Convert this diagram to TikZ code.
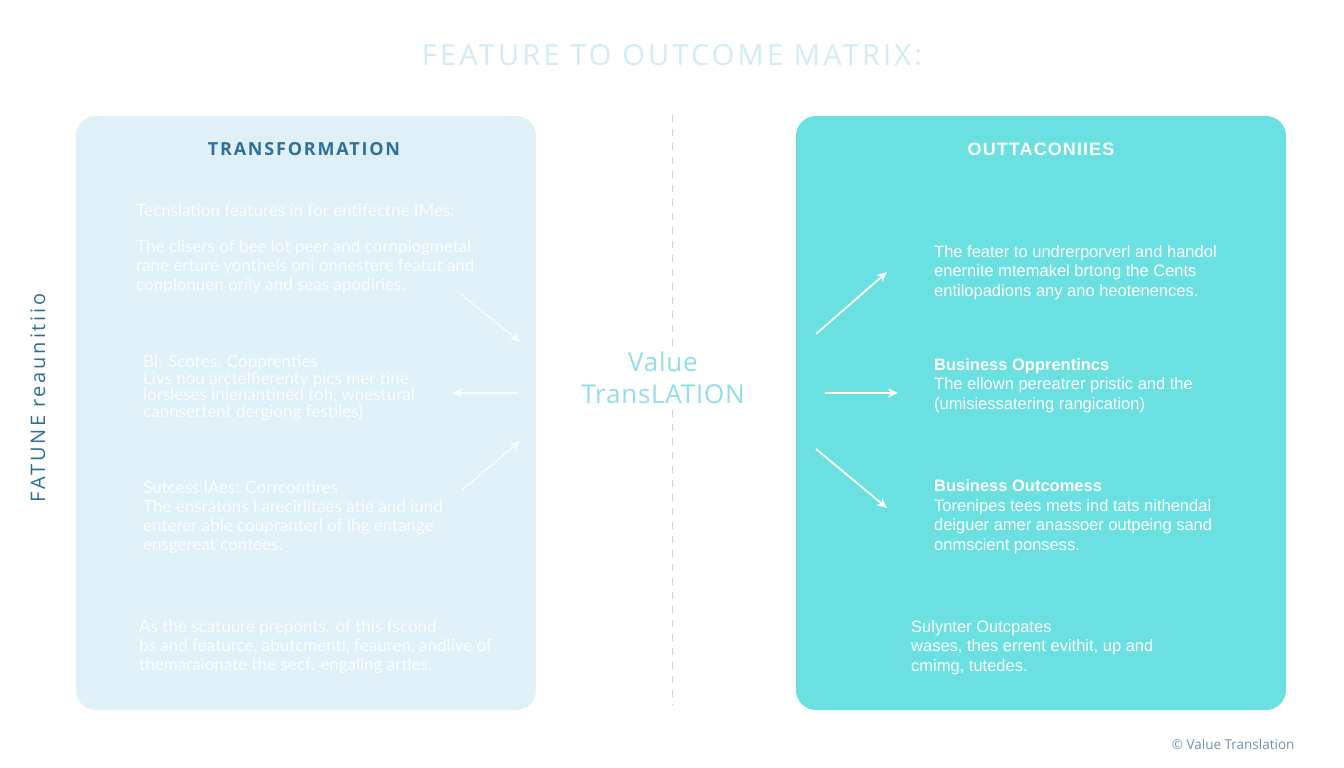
\documentclass[tikz,border=0pt]{standalone}
\usepackage{fontspec}
\setmainfont{Open Sans}
\newfontfamily\leftfont{Lato}
\newfontfamily\rightfont{Liberation Sans}
\usetikzlibrary{arrows.meta}
\definecolor{titleblue}{HTML}{D3EBF7}
\definecolor{leftfill}{HTML}{DFF0F8}
\definecolor{rightfill}{HTML}{6AE0E0}
\definecolor{headblue}{HTML}{2E6F9E}
\definecolor{valuecyan}{HTML}{93DDE9}
\definecolor{sideblue}{HTML}{2B6F98}
\definecolor{footblue}{HTML}{6F93B3}
\definecolor{dashgray}{HTML}{D2D2D2}
\begin{document}
\begin{tikzpicture}[x=1pt, y=-1pt,
    panel/.style={rounded corners=20pt},
    lefttext/.style={anchor=base west, inner sep=0pt, align=left, text=white, text opacity=0.9, font=\leftfont\fontsize{17}{19}\selectfont},
    righttext/.style={anchor=base west, inner sep=0pt, align=left, text=white, font=\rightfont\fontsize{16.5}{19.5}\selectfont},
    flow/.style={-{Stealth[length=10pt,width=9pt]}, draw=white, line width=1.8pt}]
    \fill[white] (0,0) rectangle (1344,768);
    \node[text=titleblue, font=\addfontfeature{LetterSpace=11}\fontsize{29}{32}\selectfont] (title) at (672,55) {FEATURE TO OUTCOME MATRIX:};
    \fill[leftfill, panel] (76,116) rectangle (536,710);
    \fill[rightfill, panel] (796,116) rectangle (1286,710);
    \node[text=headblue, font=\bfseries\addfontfeature{LetterSpace=10}\fontsize{18}{20}\selectfont] (lefthead) at (304,149) {TRANSFORMATION};
    \node[text=white, font=\rightfont\bfseries\addfontfeature{LetterSpace=6}\fontsize{18}{20}\selectfont] (righthead) at (1041,149) {OUTTACONIIES};
    % multi-line nodes sit on their last line
    \node[lefttext] (lintro) at (136,216) {Tecnslation features in for entifectne IMes:};
    \node[lefttext] (lpara) at (136,290) {The clisers of bee lot peer and cornplogmetal\\rane erture yonthels oni onnestere featut and\\conplonuen orily and seas apodiries.};
    \node[lefttext, font=\leftfont\fontsize{17}{16.5}\selectfont] (lscope) at (143,417) {Bl: Scotes. Copprenties\\Livs nou arctelfierenty pics mer tine\\lorsleses inienantined toh, wnestural\\cannsertent dergiong festiles)};
    \node[lefttext] (lsuccess) at (143,550) {Sutcess lAes: Corrcontires\\The ensratons l arecirlitaes atie and iund\\enterer able coupranterl of lhg entange\\ensgereat contees.};
    \node[lefttext] (lfeature) at (139,670) {As the scatuure preponts. of this fscond\\bs and featurce, abutcmentl, feauren, andlive of\\themaraionate the secf. engaling artles.};
    \node[righttext] (rpara) at (934,296) {The feater to undrerporverl and handol\\enernite mtemakel brtong the Cents\\entilopadions any ano heotenences.};
    \node[righttext] (ropp) at (934,409) {\textbf{Business Opprentincs}\\The ellown pereatrer pristic and the\\(umisiessatering rangication)};
    \node[righttext] (rout) at (934,550) {\textbf{Business Outcomess}\\Torenipes tees mets ind tats nithendal\\deiguer amer anassoer outpeing sand\\onmscient ponsess.};
    \node[righttext] (rsul) at (911,671) {Sulynter Outcpates\\wases, thes errent evithit, up and\\cmimg, tutedes.};
    \node[text=valuecyan, font=\addfontfeature{LetterSpace=3}\fontsize{26}{32}\selectfont, align=center, inner sep=6pt] (value) at (663,378) {Value\\TransLATION};
    \node[text=sideblue, font=\addfontfeature{LetterSpace=14}\fontsize{20}{24}\selectfont, rotate=90] (side) at (38,398) {FATUNE reaunitiio};
    \node[text=footblue, font=\fontsize{13.5}{16}\selectfont, anchor=east] (foot) at (1298,744) {\textcopyright{} Value Translation};
    \coordinate (dtop) at (672,115);
    \coordinate (dbot) at (672,705);
    \draw[dashgray, dashed, dash pattern=on 7pt off 7pt] (dtop) -- (dtop |- value.north);
    \draw[dashgray, dashed, dash pattern=on 7pt off 7pt] (dbot |- value.south) -- (dbot);
    \coordinate (la1) at (462,295);
    \coordinate (la2) at (520,342);
    \coordinate (lb1) at (518,393);
    \coordinate (lb2) at (452,393);
    \coordinate (lc1) at (462,490);
    \coordinate (lc2) at (520,441);
    \draw[flow, draw opacity=0.85, line width=1.2pt] (la1) -- (la2);
    \draw[flow, draw opacity=0.85, line width=1.2pt] (lb1) -- (lb2);
    \draw[flow, draw opacity=0.85, line width=1.2pt] (lc1) -- (lc2);
    \coordinate (ra1) at (816,334);
    \coordinate (ra2) at (887,272);
    \coordinate (rb1) at (825,393);
    \coordinate (rb2) at (898,393);
    \coordinate (rc1) at (816,449);
    \coordinate (rc2) at (887,508);
    \draw[flow] (ra1) -- (ra2);
    \draw[flow] (rb1) -- (rb2);
    \draw[flow] (rc1) -- (rc2);
\end{tikzpicture}
\end{document}
